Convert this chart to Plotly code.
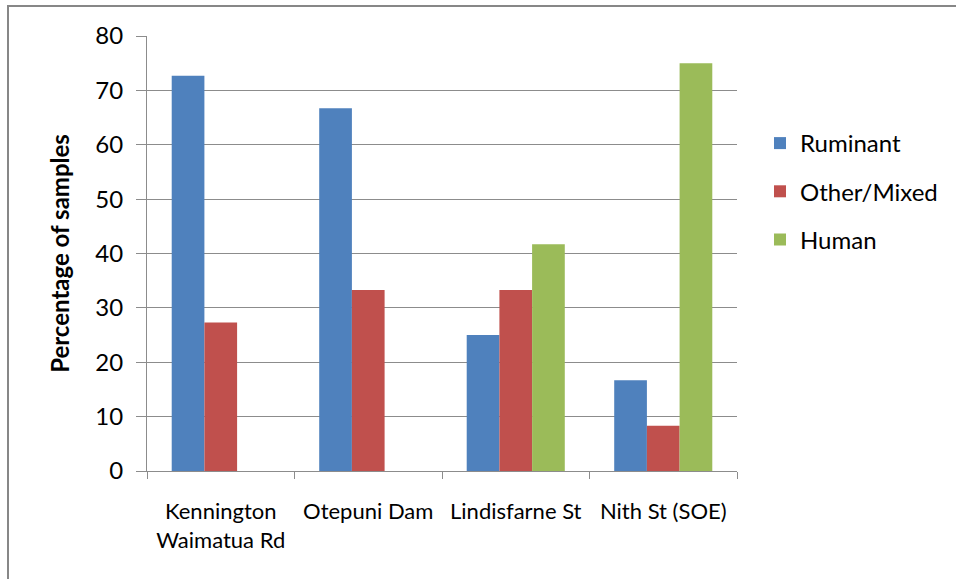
import plotly.graph_objects as go

# Source attribution of faecal samples at each monitoring site (% of samples)
sites = ["Kennington<br>Waimatua Rd", "Otepuni Dam", "Lindisfarne St", "Nith St (SOE)"]
ruminant = [72.7, 66.7, 25.0, 16.7]
other_mixed = [27.3, 33.3, 33.3, 8.3]
human = [0.0, 0.0, 41.7, 75.0]

series = [
    ("Ruminant", ruminant, "#4F81BD"),
    ("Other/Mixed", other_mixed, "#C0504D"),
    ("Human", human, "#9BBB59"),
]

W, H = 956, 579
ML, MR, MT, MB = 147, 219, 36, 108
PW, PH = W - ML - MR, H - MT - MB

FONT = "Lato, 'Open Sans', sans-serif"
GRID = "#8C8C8C"

fig = go.Figure()
for name, vals, col in series:
    fig.add_trace(go.Bar(
        x=sites, y=vals, name=name, legendgroup=name,
        marker=dict(color=col, line=dict(width=0)),
    ))


def px_x(p):
    return (p - ML) / PW


def px_y(p):
    return (H - MB - p) / PH


# outer chart frame
fig.add_shape(type="rect", xref="paper", yref="paper",
              x0=px_x(8), x1=px_x(965), y0=px_y(6), y1=px_y(590),
              line=dict(color="#878787", width=2), fillcolor="rgba(0,0,0,0)",
              layer="below")

fig.update_layout(
    width=W, height=H,
    margin=dict(l=ML, r=MR, t=MT, b=MB, pad=0),
    paper_bgcolor="white", plot_bgcolor="white",
    barmode="group", bargap=0.335, bargroupgap=0,
    font=dict(family=FONT, color="#000000"),
    showlegend=True,
    legend=dict(
        x=px_x(760), y=px_y(121), xanchor="left", yanchor="top",
        font=dict(size=24, family=FONT, color="#000000"),
        tracegroupgap=14, bgcolor="rgba(0,0,0,0)",
    ),
    xaxis=dict(
        type="category", showline=True, linecolor=GRID, linewidth=1,
        ticks="outside", tickson="boundaries", ticklen=7, tickcolor=GRID,
        tickfont=dict(size=22, family=FONT), ticklabelstandoff=21,
        showgrid=False,
    ),
    yaxis=dict(
        range=[0, 80], dtick=10, showline=True, linecolor=GRID, linewidth=1,
        ticks="outside", ticklen=10, tickcolor=GRID,
        tickfont=dict(size=24, family=FONT), ticklabelstandoff=8,
        showgrid=True, gridcolor=GRID, gridwidth=1, zeroline=False,
        title=dict(text="<b>Percentage of samples</b>", standoff=18,
                   font=dict(size=24, family=FONT)),
    ),
)

fig.write_html("out.html")
